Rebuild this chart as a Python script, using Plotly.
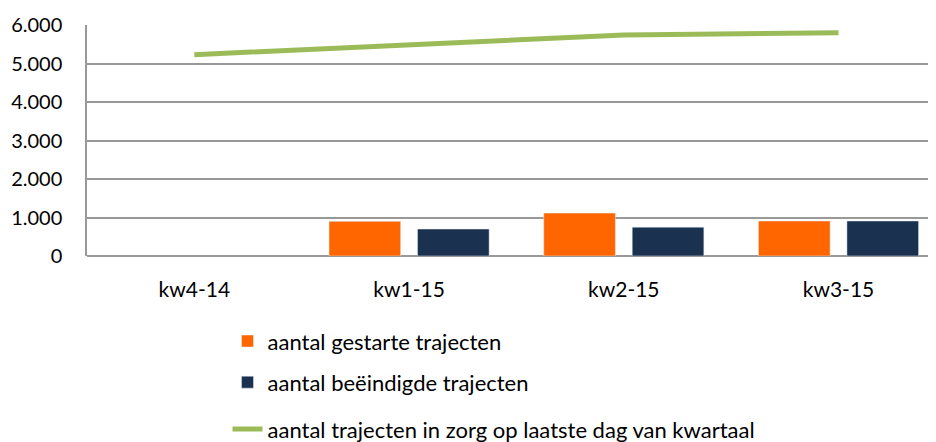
import plotly.graph_objects as go

categories = ["kw4-14", "kw1-15", "kw2-15", "kw3-15"]
gestart = [None, 900, 1115, 910]
beeindigd = [None, 700, 750, 910]
in_zorg = [5230, 5470, 5740, 5800]
y_ticks = [0, 1000, 2000, 3000, 4000, 5000, 6000]
y_labels = ["0", "1.000", "2.000", "3.000", "4.000", "5.000", "6.000"]

FONT = "Lato"
fig = go.Figure()
fig.add_trace(go.Bar(x=categories, y=gestart, name="aantal gestarte trajecten",
                     marker=dict(color="#FF6600"), legend="legend", showlegend=True))
fig.add_trace(go.Bar(x=categories, y=beeindigd, name="aantal beëindigde trajecten",
                     marker=dict(color="#1B3150"), legend="legend2", showlegend=True))
fig.add_trace(go.Scatter(x=categories, y=in_zorg, mode="lines",
                         name="aantal trajecten in zorg op laatste dag van kwartaal",
                         line=dict(color="#9BBB59", width=5), legend="legend3", showlegend=True))

leg = dict(x=0.1655, xanchor="left", yanchor="middle", bgcolor="rgba(0,0,0,0)",
           font=dict(family=FONT, size=22, color="#000000"), visible=True)
fig.update_layout(
    width=928, height=434,
    margin=dict(l=79, r=0, t=17, b=186, autoexpand=False),
    showlegend=True,
    plot_bgcolor="white", paper_bgcolor="white",
    barmode="group", bargap=0.176, bargroupgap=0.19,
    font=dict(family=FONT, size=20, color="#000000"),
    legend=dict(leg, y=-0.369),
    legend2=dict(leg, y=-0.547),
    legend3=dict(leg, y=-0.75),
    xaxis=dict(showline=False, ticks="", ticklabelstandoff=19, automargin=False,
               range=[-0.5, 3.454],
               tickfont=dict(family=FONT, size=21)),
    yaxis=dict(range=[0, 6000], tickvals=y_ticks, ticktext=y_labels, automargin=False,
               showgrid=True, gridcolor="#999999", gridwidth=1.5,
               showline=True, linecolor="#999999", linewidth=1.5,
               zeroline=True, zerolinecolor="#999999", zerolinewidth=1.5,
               ticks="", ticklabelstandoff=19,
               tickfont=dict(family=FONT, size=20)),
)
fig.write_html("out.html")
